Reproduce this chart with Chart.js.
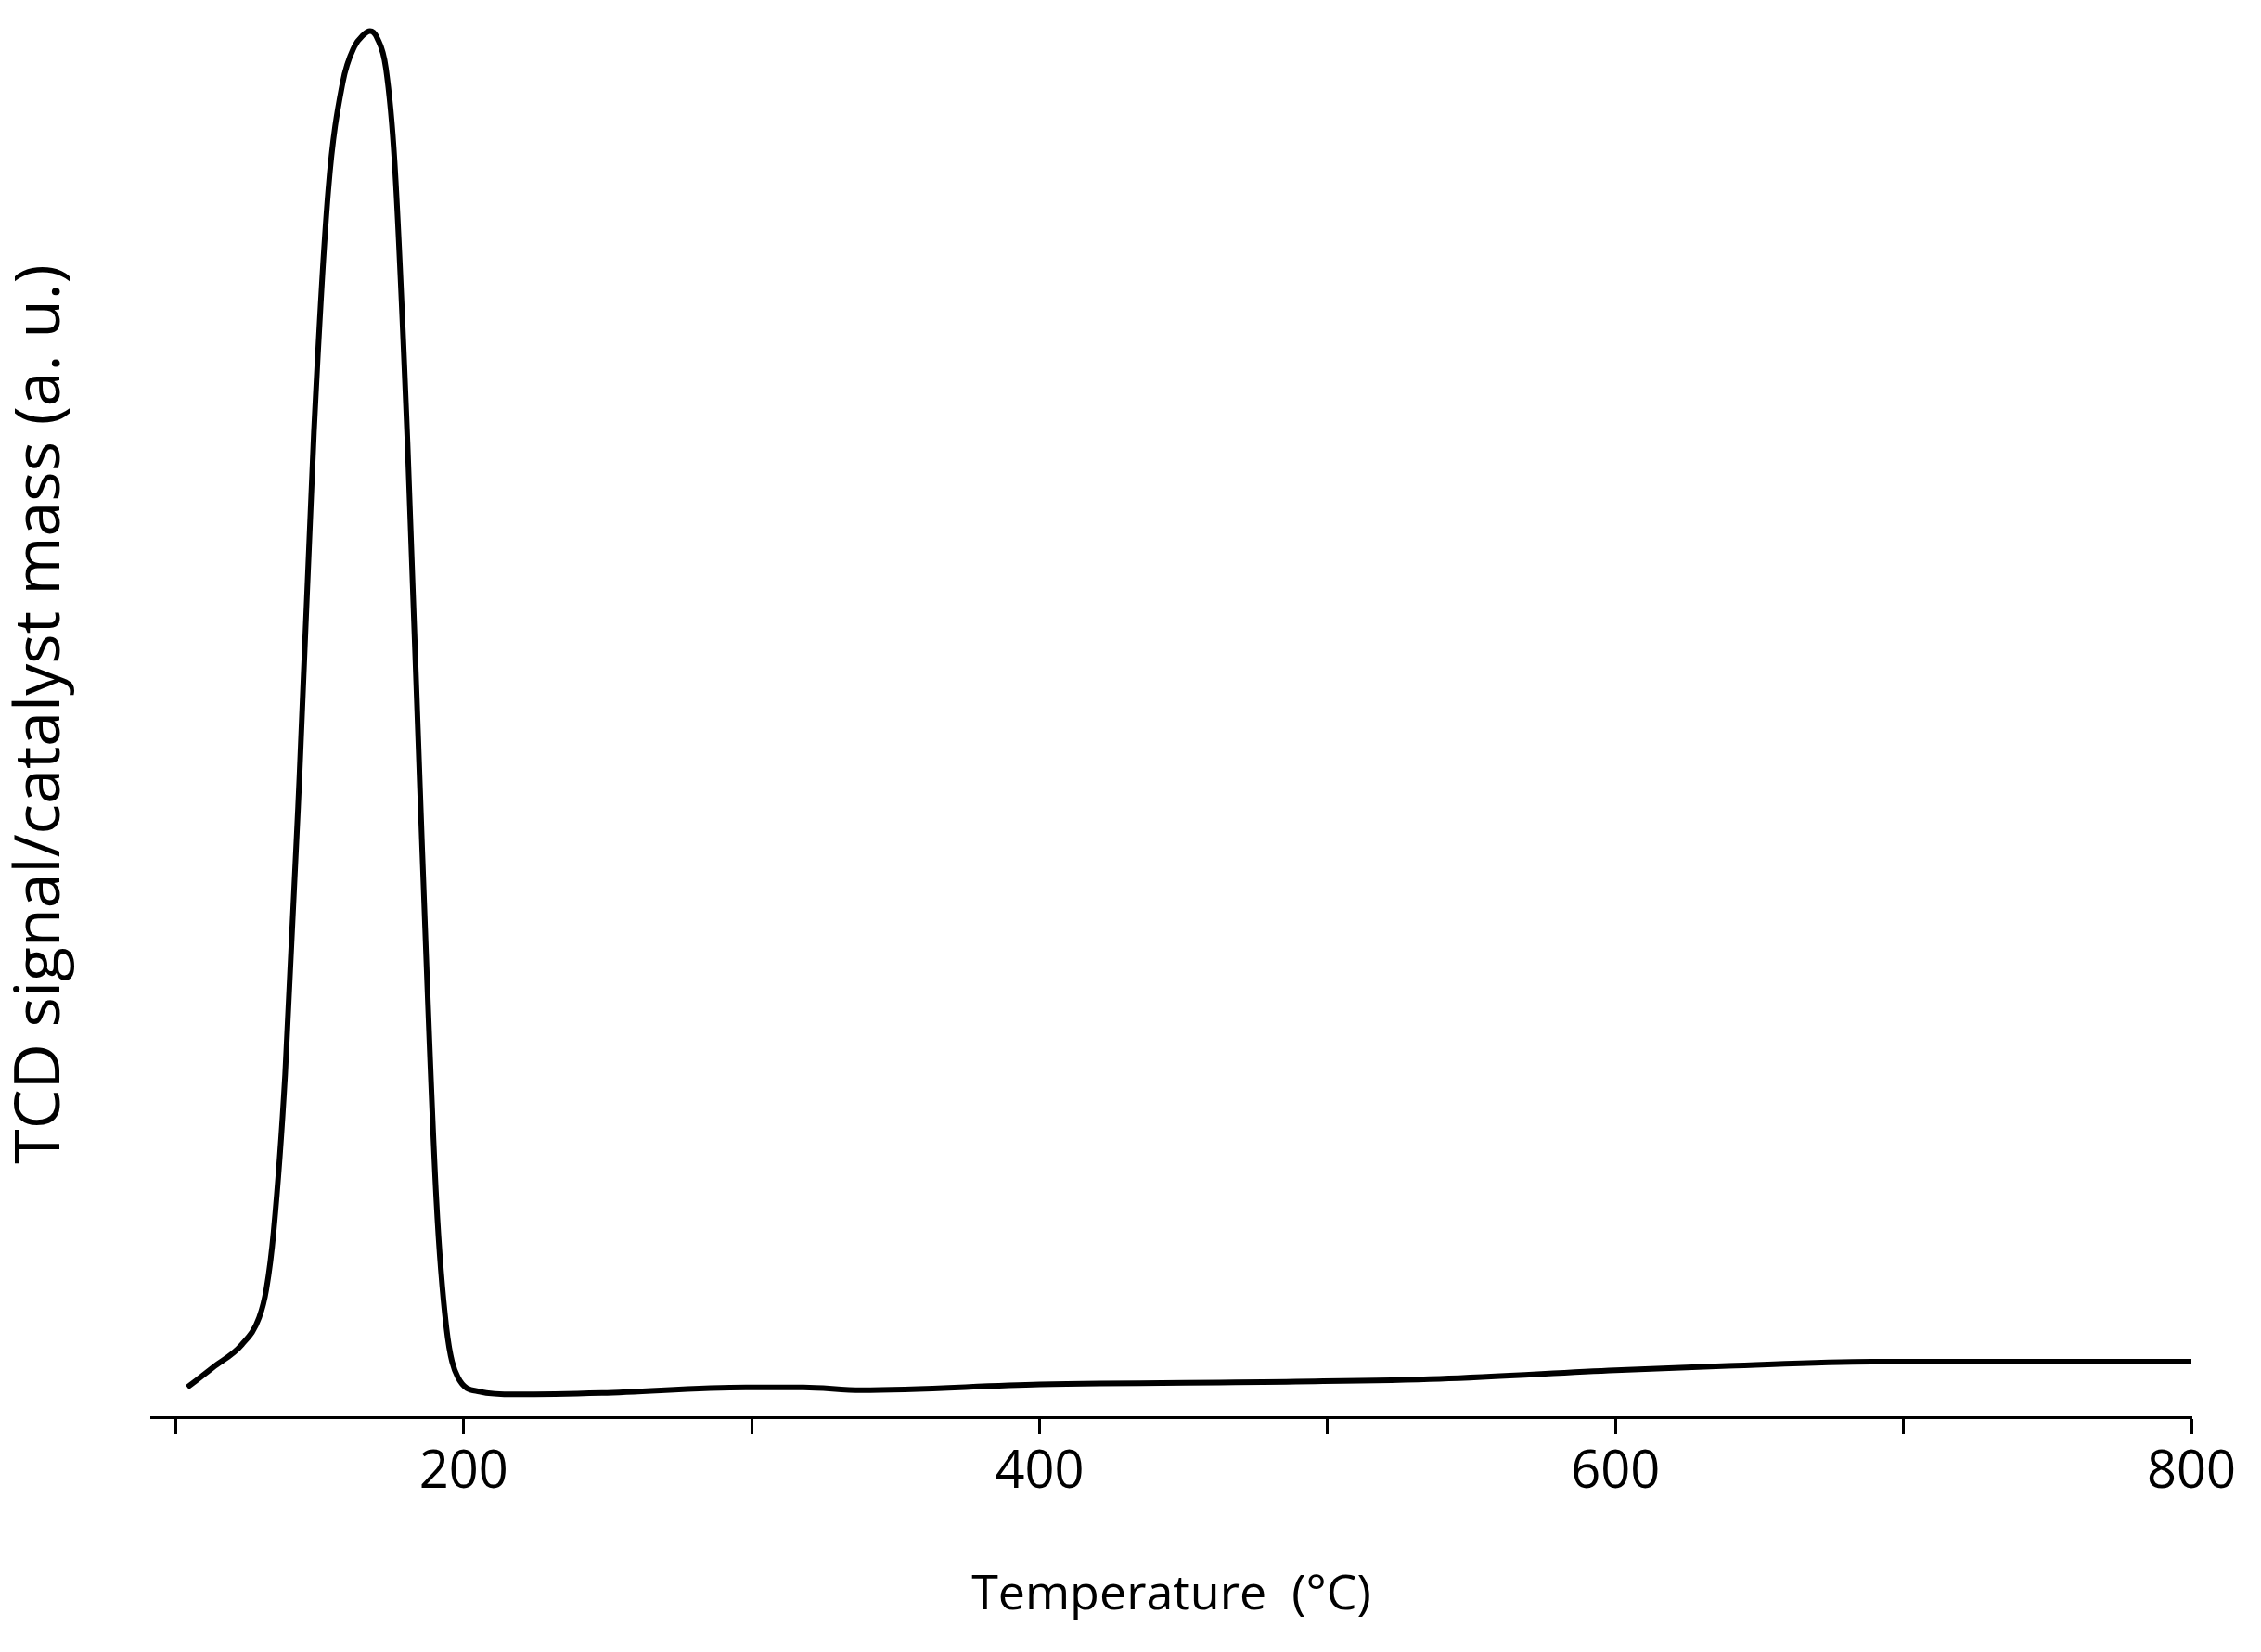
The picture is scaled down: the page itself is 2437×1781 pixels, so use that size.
<!DOCTYPE html>
<html>
<head>
<meta charset="utf-8">
<script src="https://cdn.jsdelivr.net/npm/chart.js@4"></script>
<style>
  html, body { margin: 0; padding: 0; background: #fff; }
  #wrap { width: 2437px; height: 1781px; }
</style>
</head>
<body>
<div id="wrap"><canvas id="grafico"></canvas></div>
<script>
// temperatura (°C) e sinal TCD (u.a.)
const temps = [104, 113, 123, 129, 131.5, 134, 138, 143, 148, 153, 158, 162, 165, 167.5, 170, 173, 176, 180.5, 185.5, 190.5, 194, 198, 205.5, 218, 248, 298, 318, 338, 400, 489, 539, 600, 639, 689, 800];
const sinal = [21, 35, 51, 70, 90, 130, 240, 450, 690, 860, 935, 960, 968, 971, 966, 945, 880, 683, 403, 153, 63, 28, 18, 16, 17, 21, 21, 19, 23, 25, 27, 33, 36, 39, 39];
const rotulosX = [200, 400, 600, 800];

const pontos = temps.map((t, i) => ({ x: t, y: sinal[i] }));

new Chart(document.getElementById('grafico'), {
  type: 'line',
  data: {
    datasets: [{
      data: pontos,
      borderColor: '#000',
      borderWidth: 6,
      pointRadius: 0,
      cubicInterpolationMode: 'monotone',
      fill: false
    }]
  },
  options: {
    responsive: true,
    maintainAspectRatio: false,
    animation: false,
    layout: { padding: { top: 12, right: 75, left: 0, bottom: 0 } },
    plugins: { legend: { display: false }, tooltip: { enabled: false } },
    scales: {
      x: {
        type: 'linear',
        min: 91.5,
        max: 800,
        afterFit: s => { s.height = 253; },
        afterBuildTicks: s => { s.ticks = [100, 200, 300, 400, 500, 600, 700, 800].map(v => ({ value: v })); },
        ticks: {
          color: '#000',
          font: { family: 'Open Sans', size: 56 },
          padding: 8,
          maxRotation: 0,
          callback: v => rotulosX.includes(v) ? v : ''
        },
        grid: { drawOnChartArea: false, tickLength: 18, tickWidth: 3, color: '#000' },
        border: { color: '#000', width: 3 },
        title: {
          display: true,
          text: 'Temperature  (°C)',
          color: '#000',
          font: { family: 'Open Sans', size: 52 },
          padding: { top: 0, bottom: 30 }
        }
      },
      y: {
        min: 0,
        max: 985,
        afterFit: s => { s.width = 163; },
        ticks: { display: false },
        grid: { display: false },
        border: { display: false },
        title: {
          display: true,
          text: 'TCD signal/catalyst mass (a. u.)',
          color: '#000',
          font: { family: 'Open Sans', size: 68 },
          padding: { bottom: 20 }
        }
      }
    }
  }
});
</script>
</body>
</html>
